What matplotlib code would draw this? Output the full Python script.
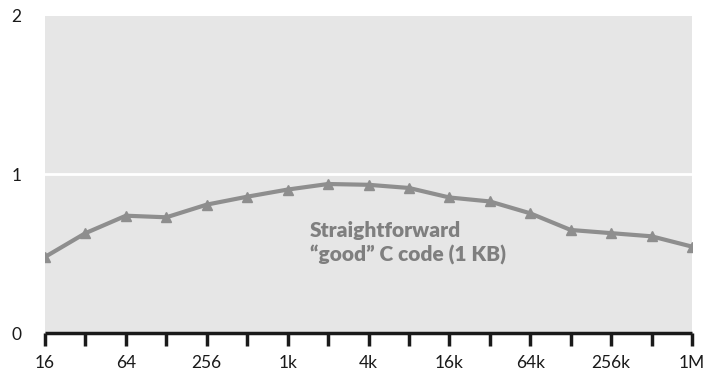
import matplotlib
matplotlib.use("Agg")
import matplotlib.pyplot as plt
import numpy as np

plt.rcParams["font.family"] = ["Lato", "DejaVu Sans"]

# Working-set sizes (bytes), powers of two from 16 to 1M
sizes = ["16", "32", "64", "128", "256", "512", "1k", "2k", "4k", "8k",
         "16k", "32k", "64k", "128k", "256k", "512k", "1M"]
tick_labels = ["16", "64", "256", "1k", "4k", "16k", "64k", "256k", "1M"]
speed = [0.48, 0.63, 0.74, 0.73, 0.81, 0.86, 0.905, 0.94, 0.935, 0.915,
         0.855, 0.83, 0.755, 0.65, 0.63, 0.61, 0.545]

line_gray = "#8e8e8e"
bg_gray = "#e6e6e6"

fig = plt.figure(figsize=(7.07, 3.71), dpi=100)
ax = fig.add_axes([0.0637, 0.1024, 0.9151, 0.8545])
ax.set_facecolor(bg_gray)

x = np.arange(len(sizes))
ax.plot(x, speed, color=line_gray, lw=3, marker="^", ms=7,
        markeredgecolor=line_gray, markerfacecolor=line_gray, zorder=3)

ax.axhline(1, color="white", lw=2, zorder=1)

ax.set_xlim(0, len(sizes) - 1)
ax.set_ylim(0, 2)
ax.set_yticks([0, 1, 2])
ax.set_yticklabels(["0", "1", "2"])
ax.set_xticks(x)
ax.set_xticklabels([s if s in tick_labels else "" for s in sizes])

for side in ["top", "right", "left"]:
    ax.spines[side].set_visible(False)
ax.spines["bottom"].set_linewidth(2.5)
ax.spines["bottom"].set_color("#1a1a1a")
ax.spines["bottom"].set_capstyle("butt")

ax.tick_params(axis="x", length=9, width=2.5, color="#1a1a1a",
               labelsize=12.5, pad=7, labelcolor="#1a1a1a")
ax.tick_params(axis="y", length=0, labelsize=12.5, pad=17,
               labelcolor="#1a1a1a")

ax.text(6.55, 0.57, "Straightforward\n\u201cgood\u201d C code (1 KB)",
        color="#7f7f7f", fontsize=15, fontweight="heavy",
        ha="left", va="center", linespacing=1.3)

fig.savefig("out.png", dpi=100, facecolor="white")
